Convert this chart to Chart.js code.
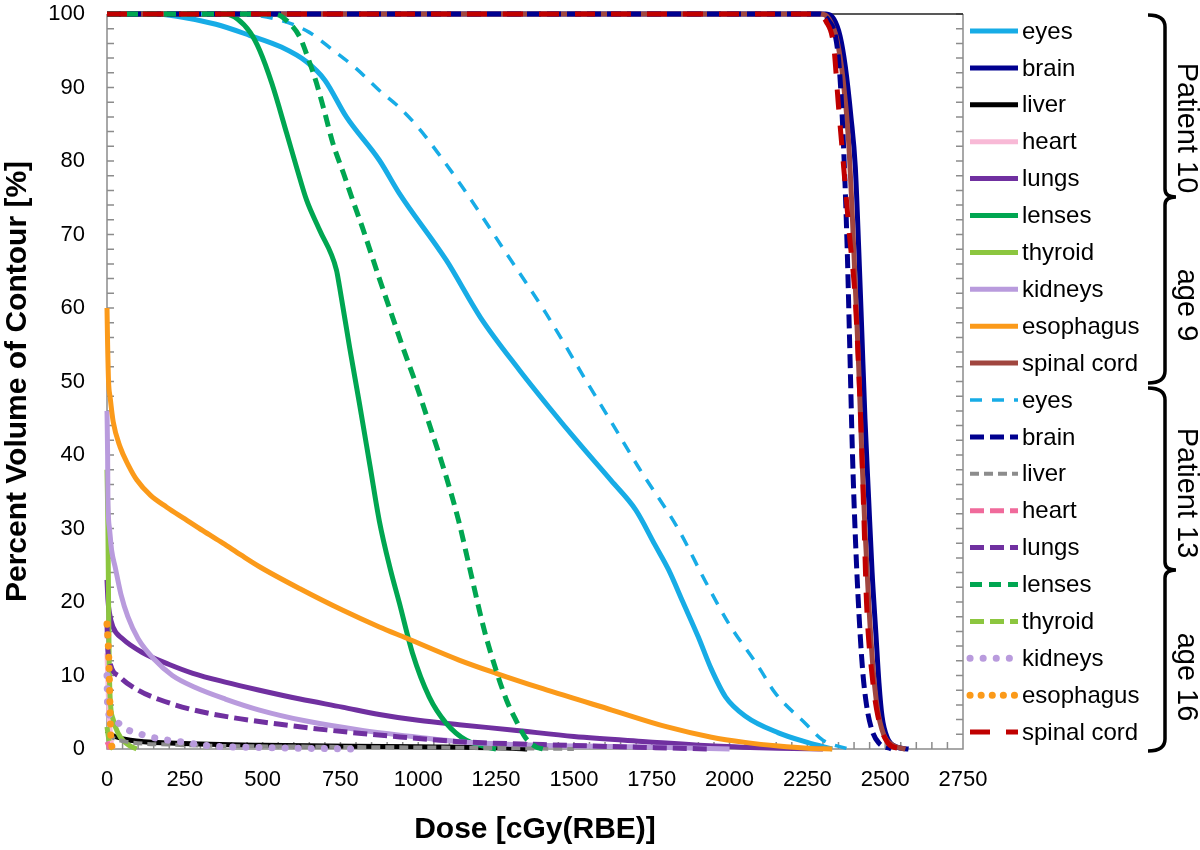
<!DOCTYPE html>
<html>
<head>
<meta charset="utf-8">
<script src="https://cdn.jsdelivr.net/npm/chart.js@4"></script>
<style>
  body { margin: 0; background: #fff; }
</style>
</head>
<body>
<canvas id="myChart" width="1200" height="850"></canvas>
<script>
// structures, same order for both patients
let organs = ['eyes', 'brain', 'liver', 'heart', 'lungs', 'lenses', 'thyroid', 'kidneys', 'esophagus', 'spinal cord'];
let groupLabels = ['Patient 10', 'age 9', 'Patient 13', 'age 16'];
let xTickLabels = [0, 250, 500, 750, 1000, 1250, 1500, 1750, 2000, 2250, 2500, 2750];
let yTickLabels = [0, 10, 20, 30, 40, 50, 60, 70, 80, 90, 100];

// Patient 10 (solid) - [dose cGy(RBE), % volume]
let eyes10 = [[0,100],[150,100],[224,99.7],[350,98.6],[458,97.1],[560,95.5],[641,93.5],[700,91],[769,86],[875,80.1],[939,75.6],[1090,66.5],[1200,58.7],[1324,51.6],[1420,46.5],[1516,41.6],[1620,36.5],[1699,32.5],[1760,27.8],[1804,24.4],[1850,20],[1900,15.2],[1940,11],[1987,7.1],[2050,4.5],[2157,2.2],[2250,0.9],[2330,0]];
let brain10 = [[0,100],[2310,100],[2335,99.3],[2355,97],[2372,92.8],[2390,86],[2404,79.2],[2415,68],[2425,56.6],[2435,45],[2447,33.9],[2458,24],[2470,15.8],[2480,9],[2490,4.4],[2507,1.5],[2535,0.3],[2575,0]];
let liver10 = [[0,2.5],[10,2],[25,1.7],[75,1.2],[200,0.8],[500,0.5],[1000,0.3],[1300,0.1],[1350,0]];
let heart10 = [[0,13],[3,9],[6,5],[10,2.5],[15,0.5],[20,0]];
let lungs10 = [[0,23],[3,20.3],[8,18.5],[19,16.6],[50,15],[115,13.1],[200,11.5],[276,10.3],[380,9.1],[490,8],[620,6.8],[756,5.7],[875,4.7],[1000,3.9],[1131,3.3],[1301,2.6],[1500,1.7],[1731,1],[1950,0.4],[2157,0.1],[2300,0]];
let lenses10 = [[0,100],[380,100],[420,99.3],[460,97.5],[490,95.1],[530,90.5],[577,83.8],[610,79],[641,74.7],[683,70.6],[737,65.2],[747,62.9],[780,54.5],[811,47],[845,38.5],[875,31],[910,24.5],[939,19.9],[981,13.1],[1035,7.1],[1090,3.5],[1154,1.2],[1218,0.3],[1250,0]];
let thyroid10 = [[0,38],[3,30],[5,20],[7,12],[10,7],[20,4],[35,2.2],[55,1],[75,0.4],[95,0]];
let kidneys10 = [[0,46],[2,40],[3,34],[8,30],[15,27],[26,24.8],[45,21],[67,18],[100,15],[154,12.1],[210,10],[282,8.4],[380,6.8],[490,5.3],[640,3.8],[811,2.6],[1000,1.6],[1131,1],[1400,0.5],[1700,0.3],[2000,0]];
let esophagus10 = [[0,60],[2,55],[5,50],[10,47.9],[20,44.5],[42,41.1],[70,38.5],[96,36.6],[140,34.5],[192,32.9],[250,31.3],[308,29.7],[372,28],[430,26.4],[490,24.8],[620,21.8],[756,18.9],[875,16.6],[961,15.1],[1131,12.1],[1250,10.3],[1400,8.2],[1622,5.3],[1800,3],[1942,1.6],[2050,0.9],[2157,0.4],[2250,0.1],[2330,0]];
let spinal10 = [[0,100],[2295,100],[2320,99.3],[2345,96.5],[2365,91],[2382,83],[2395,72],[2405,62],[2415,52],[2425,40],[2435,30],[2447,20],[2460,11.5],[2475,5.5],[2495,2],[2525,0.5],[2565,0]];

// Patient 13 (dashed / dotted)
let eyes13 = [[0,100],[404,100],[554,99.2],[650,97.5],[725,95.1],[800,92.6],[875,89.6],[939,87.3],[1003,84.4],[1070,80.7],[1141,76.5],[1282,67.5],[1410,59.3],[1538,50.2],[1620,44.5],[1708,38.3],[1837,29.8],[1920,23],[1997,17.1],[2093,11.2],[2147,7.6],[2243,3.5],[2300,1.2],[2381,0]];
let brain13 = [[0,100],[2290,100],[2320,99],[2340,97],[2352,93],[2362,86],[2370,78],[2378,68],[2386,55],[2395,40],[2405,28],[2415,19],[2427,11],[2440,6],[2458,2.5],[2480,0.8],[2520,0]];
let liver13 = [[0,2],[20,1.5],[60,1],[200,0.6],[700,0.3],[1200,0.15],[1500,0]];
let heart13 = [[0,1],[5,0.5],[10,0]];
let lungs13 = [[0,17],[2,14],[8,12],[42,9.8],[100,8],[170,6.7],[270,5.4],[385,4.4],[550,3.4],[705,2.6],[900,1.8],[1131,1],[1400,0.6],[1700,0.25],[1940,0]];
let lenses13 = [[0,100],[540,100],[580,99],[619,96.9],[650,93.5],[673,90.6],[700,86.5],[725,82.5],[760,78.3],[790,74.6],[821,70.9],[875,64],[917,58.8],[950,54.7],[994,49.5],[1040,43.6],[1090,37],[1130,31],[1163,25],[1210,16.5],[1250,10.7],[1285,6.5],[1314,3.9],[1345,1.5],[1378,0.3],[1400,0]];
let thyroid13 = [[0,3],[5,1.5],[10,0.5],[20,0]];
let kidneys13 = [[0,10],[2,5.7],[10,4.5],[26,3.9],[67,2.6],[110,2],[154,1.5],[250,0.9],[336,0.4],[500,0.2],[790,0]];
let esophagus13 = [[0,17],[3,15],[6,12],[8,9],[10,5],[12,2],[15,0.5],[20,0]];
let spinal13 = [[0,100],[2280,100],[2310,99],[2335,95.5],[2349,88],[2365,80],[2385,70],[2404,61],[2423,43],[2432,31],[2440,20],[2458,10],[2477,4.4],[2509,0.8],[2550,0]];

let patient10 = [eyes10, brain10, liver10, heart10, lungs10, lenses10, thyroid10, kidneys10, esophagus10, spinal10];
let patient13 = [eyes13, brain13, liver13, heart13, lungs13, lenses13, thyroid13, kidneys13, esophagus13, spinal13];

let colors10 = ['#17ace6', '#00008f', '#000000', '#f8b9d6', '#7030a0', '#00a651', '#8cc63f', '#b99bdd', '#fb9a1a', '#a0463f'];
let colors13 = ['#17ace6', '#00008f', '#8c8c8c', '#f06a9b', '#7030a0', '#00a651', '#8cc63f', '#b99bdd', '#fb9a1a', '#c00000'];
let dashes13 = [[12, 10], [14, 6], [9, 5], [14, 6], [14, 6], [12, 7], [14, 6], [0.1, 13], [0.1, 11], [20, 16]];
let widths13 = [3.5, 5, 4, 5, 5, 5, 5, 7, 7, 5];

let datasets = [];
organs.forEach(function (o, i) {
    datasets.push({
        label: o,
        data: patient10[i].map(p => ({ x: p[0], y: p[1] })),
        borderColor: colors10[i],
        borderWidth: 5,
        borderDash: [],
        borderCapStyle: 'butt'
    });
});
organs.forEach(function (o, i) {
    let dotted = dashes13[i][0] < 1;
    datasets.push({
        label: o,
        data: patient13[i].map(p => ({ x: p[0], y: p[1] })),
        borderColor: colors13[i],
        borderWidth: widths13[i],
        borderDash: dashes13[i],
        borderCapStyle: dotted ? 'round' : 'butt'
    });
});
// later series sit on top, like the original spreadsheet
datasets.forEach(function (d, i) {
    d.order = -i;
    d.pointRadius = 0;
    d.fill = false;
    d.clip = false;
    d.cubicInterpolationMode = 'monotone';
});

let font = "'Liberation Sans', Arial, Helvetica, sans-serif";

// inward minor ticks and the frame
let frame = {
    id: 'frame',
    beforeDatasetsDraw(chart) {
        let ctx = chart.ctx, a = chart.chartArea;
        let xs = chart.scales.x, ys = chart.scales.y;
        ctx.save();
        ctx.strokeStyle = '#8c8c8c';
        ctx.lineWidth = 1.5;
        ctx.beginPath();
        xs.ticks.forEach(function (t) {
            let px = xs.getPixelForValue(t.value);
            ctx.moveTo(px, a.bottom);
            ctx.lineTo(px, a.bottom - 7);
        });
        ys.ticks.forEach(function (t) {
            let py = ys.getPixelForValue(t.value);
            ctx.moveTo(a.left, py);
            ctx.lineTo(a.left + 7, py);
            ctx.moveTo(a.right, py);
            ctx.lineTo(a.right - 7, py);
        });
        ctx.moveTo(a.left, a.top);
        ctx.lineTo(a.left, a.bottom);
        ctx.lineTo(a.right, a.bottom);
        ctx.lineTo(a.right, a.top);
        ctx.stroke();
        ctx.strokeStyle = '#222';
        ctx.beginPath();
        ctx.moveTo(a.left, a.top);
        ctx.lineTo(a.right, a.top);
        ctx.stroke();
        ctx.restore();
    }
};

// legend, braces and group captions on the right
let sideLegend = {
    id: 'sideLegend',
    afterDraw(chart) {
        let ctx = chart.ctx;
        ctx.save();
        ctx.font = '24px ' + font;
        ctx.textBaseline = 'middle';
        ctx.fillStyle = '#000';
        chart.data.datasets.forEach(function (d, i) {
            let y = 31 + i * 36.9;
            ctx.beginPath();
            ctx.setLineDash(d.borderDash);
            ctx.lineCap = d.borderCapStyle;
            ctx.lineWidth = d.borderWidth;
            ctx.strokeStyle = d.borderColor;
            ctx.moveTo(970, y);
            ctx.lineTo(1018, y);
            ctx.stroke();
            ctx.fillText(d.label, 1022, y + 1);
        });
        ctx.setLineDash([]);

        function brace(y0, ym, y1) {
            ctx.beginPath();
            ctx.moveTo(1148, y0);
            ctx.quadraticCurveTo(1165, y0, 1165, y0 + 12);
            ctx.lineTo(1165, ym - 8);
            ctx.quadraticCurveTo(1165, ym, 1176, ym);
            ctx.quadraticCurveTo(1165, ym, 1165, ym + 8);
            ctx.lineTo(1165, y1 - 12);
            ctx.quadraticCurveTo(1165, y1, 1148, y1);
            ctx.stroke();
        }
        ctx.lineWidth = 3.5;
        ctx.lineCap = 'butt';
        ctx.strokeStyle = '#000';
        brace(15, 197, 383);
        brace(388, 570, 751);

        let centers = [128, 305, 493, 677];
        ctx.font = '29px ' + font;
        ctx.textAlign = 'center';
        groupLabels.forEach(function (g, i) {
            ctx.save();
            ctx.translate(1186, centers[i]);
            ctx.rotate(Math.PI / 2);
            ctx.fillText(g, 0, 0);
            ctx.restore();
        });
        ctx.restore();
    }
};

let myChart = document.getElementById('myChart').getContext('2d');

let chart = new Chart(myChart, {
    type: 'line',
    data: { datasets: datasets },
    plugins: [frame, sideLegend],
    options: {
        responsive: false,
        animation: false,
        layout: { padding: { top: 14, right: 237, left: 0, bottom: 0 } },
        plugins: {
            legend: { display: false },
            tooltip: { enabled: false }
        },
        scales: {
            x: {
                type: 'linear',
                min: 0,
                max: 2750,
                grid: { display: false, drawTicks: false },
                border: { display: false },
                ticks: {
                    stepSize: 50,
                    autoSkip: false,
                    maxRotation: 0,
                    padding: 18,
                    color: '#000',
                    font: { family: font, size: 22 },
                    callback: v => xTickLabels.includes(v) ? v : ''
                },
                title: {
                    display: true,
                    text: 'Dose [cGy(RBE)]',
                    color: '#000',
                    font: { family: font, size: 30, weight: 'bold' },
                    padding: { top: 0, bottom: 2 }
                },
                afterFit: s => { s.height = 101; s.paddingLeft = 0; s.paddingRight = 0; }
            },
            y: {
                min: 0,
                max: 100,
                grid: { display: false, drawTicks: false },
                border: { display: false },
                ticks: {
                    stepSize: 2,
                    autoSkip: false,
                    padding: 22,
                    color: '#000',
                    font: { family: font, size: 22 },
                    callback: v => yTickLabels.includes(v) ? v : ''
                },
                title: {
                    display: true,
                    text: 'Percent Volume of Contour [%]',
                    color: '#000',
                    font: { family: font, size: 30, weight: 'bold' },
                    padding: { top: 0, bottom: 0 }
                },
                afterFit: s => { s.width = 107; s.paddingTop = 0; s.paddingBottom = 0; }
            }
        }
    }
});
</script>
</body>
</html>
